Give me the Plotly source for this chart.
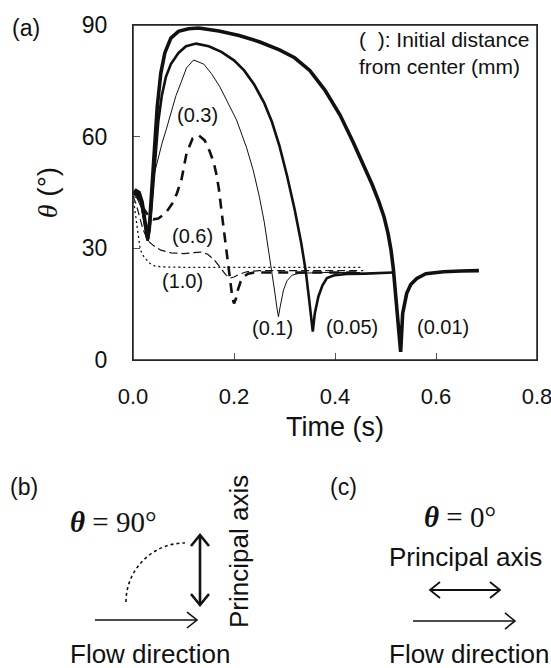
import plotly.graph_objects as go

# ---------------- data ----------------
t_001 = [0, 0.006, 0.012, 0.018, 0.024, 0.029, 0.033, 0.037, 0.042, 0.048, 0.055, 0.063, 0.075,
         0.09, 0.11, 0.13, 0.17, 0.21, 0.25, 0.29, 0.32, 0.35, 0.38, 0.41, 0.436, 0.456, 0.474,
         0.487, 0.497, 0.505, 0.511, 0.5155, 0.522, 0.527, 0.530, 0.534, 0.542, 0.55, 0.562,
         0.58, 0.615, 0.65, 0.685]
v_001 = [44.5, 45.5, 45, 42.5, 37, 32.5, 37, 46, 57, 68, 77, 82.5, 86.5,
         88.3, 89, 89.2, 88.4, 87.2, 85.5, 83.3, 81.2, 77.8, 72.5, 65.8, 58.5, 52.5, 47,
         42.5, 38.5, 34, 29.5, 24.5, 14.3, 6.3, 2.2, 12.5, 17.9, 20.3, 21.9,
         23.2, 23.7, 23.9, 24]

t_005 = [0, 0.006, 0.012, 0.018, 0.024, 0.029, 0.033, 0.038, 0.044, 0.05, 0.057, 0.065, 0.075,
         0.09, 0.105, 0.125, 0.15, 0.175, 0.2, 0.22, 0.24, 0.26, 0.275, 0.29, 0.305, 0.32,
         0.333, 0.342, 0.349, 0.354, 0.356, 0.360, 0.367, 0.375, 0.384, 0.4, 0.423, 0.46,
         0.5, 0.515]
v_005 = [45, 45, 44, 41, 36, 32, 35, 44, 55, 64, 71, 76, 79.5,
         82.5, 84.3, 85, 84.3, 82.8, 80.5, 77.8, 74, 69, 64, 57.5, 49.5, 40.5,
         31.5, 24, 16, 10, 7.6, 12.5, 17, 20, 22, 22.8, 23.1, 23.2,
         23.3, 23.5]

t_01 = [0, 0.008, 0.016, 0.022, 0.028, 0.032, 0.037, 0.044, 0.05, 0.058, 0.066, 0.075, 0.085,
        0.095, 0.106, 0.12, 0.14, 0.155, 0.172, 0.205, 0.225, 0.238, 0.25, 0.26, 0.268, 0.275,
        0.281, 0.285, 0.288, 0.291, 0.294, 0.298, 0.305, 0.315, 0.33, 0.38, 0.45]
v_01 = [44, 43.5, 41, 37, 33, 37, 46, 51, 54.5, 58.5, 62, 66, 71,
        74.5, 78.5, 80.6, 79.5, 77, 73.4, 64.5, 57, 51, 44, 37, 30, 24.2,
        18, 14, 11.6, 14, 16.5, 18.8, 21.3, 22.8, 23.3, 23.5, 23.5]

t_03 = [0, 0.008, 0.016, 0.024, 0.032, 0.04, 0.05, 0.06, 0.07, 0.08, 0.087, 0.096, 0.106,
        0.118, 0.13, 0.142, 0.152, 0.16, 0.165, 0.17, 0.178, 0.186, 0.192, 0.197, 0.2, 0.204,
        0.208, 0.213, 0.219, 0.228, 0.24, 0.3, 0.38, 0.45]
v_03 = [45, 44, 42, 40, 38.5, 37.8, 38, 39, 40.5, 42.5, 44.8, 48.5, 55.5,
        59.5, 60.4, 59, 56, 53, 50, 46, 37, 27.8, 21.5, 16.5, 15.2, 16.5,
        19, 21, 22.4, 23.2, 23.5, 23.5, 23.5, 23.5]

t_06 = [0, 0.006, 0.012, 0.02, 0.03, 0.04, 0.055, 0.075, 0.1, 0.12, 0.135, 0.148, 0.16, 0.172,
        0.183, 0.192, 0.2, 0.21, 0.225, 0.25, 0.3, 0.38, 0.456]
v_06 = [44, 42, 39, 35, 32, 30.8, 29.5, 28.8, 28.6, 28.8, 29, 28.4, 27, 25,
        23, 22, 22.3, 23, 23.7, 24, 24, 24, 24]

t_10 = [0, 0.004, 0.008, 0.0106, 0.014, 0.018, 0.024, 0.034, 0.044, 0.06, 0.1, 0.2, 0.3, 0.456]
v_10 = [44, 40, 35, 32.2, 30, 28.5, 27.3, 25.9, 25.2, 25, 24.9, 24.9, 24.9, 24.9]

x_ticks = [0.0, 0.2, 0.4, 0.6, 0.8]
y_ticks = [0, 30, 60, 90]

curve_labels = ["(0.3)", "(0.6)", "(1.0)", "(0.1)", "(0.05)", "(0.01)"]
label_t = [0.1277, 0.1188, 0.0980, 0.2772, 0.4327, 0.6129]
label_v = [65.7, 33.3, 21.2, 8.6, 8.9, 8.9]

# ---------------- figure ----------------
W, H = 551, 668
L, R, T, B = 133, 14, 25, 308
PW, PH = W - L - R, H - T - B
SANS = "Liberation Sans, Arial, Helvetica, sans-serif"
SERIF = "Liberation Serif, Times New Roman, serif"
INK = "#111111"


def px(x, y):
    """pixel position on the canvas -> paper coordinates"""
    return (x - L) / PW, (H - B - y) / PH


fig = go.Figure()

series = [
    (t_001, v_001, 3.6, "solid"),
    (t_005, v_005, 2.6, "solid"),
    (t_01, v_01, 1.0, "solid"),
    (t_03, v_03, 2.6, "10px,7px"),
    (t_06, v_06, 1.2, "8px,4px"),
    (t_10, v_10, 1.3, "2px,3px"),
]
for tx, vy, w, d in series:
    fig.add_trace(go.Scatter(x=tx, y=vy, mode="lines",
                             line=dict(color=INK, width=w, dash=d),
                             showlegend=False, hoverinfo="skip"))

annotations = []
for txt, tx, vy in zip(curve_labels, label_t, label_v):
    annotations.append(dict(x=tx, y=vy, xref="x", yref="y", text=txt, showarrow=False,
                            font=dict(family=SANS, size=20, color=INK)))

annotations.append(dict(x=0.4436, y=89.6, xref="x", yref="y", xanchor="left", yanchor="top",
                        align="left", showarrow=False,
                        text="(  ): Initial distance<br>from center (mm)",
                        font=dict(family=SANS, size=21, color=INK)))


def text_px(x, y, s, size, family=SANS, angle=0):
    xp, yp = px(x, y)
    annotations.append(dict(x=xp, y=yp, xref="paper", yref="paper", text=s, showarrow=False,
                            xanchor="center", yanchor="middle", textangle=angle,
                            font=dict(family=family, size=size, color=INK)))


text_px(26, 28, "(a)", 23)
text_px(24, 487, "(b)", 23)
text_px(343, 487, "(c)", 23)
text_px(113, 522, "<b><i>θ</i></b> = 90°", 29, SERIF)
text_px(460, 517, "<b><i>θ</i></b> = 0°", 29, SERIF)
text_px(239, 552, "Principal axis", 26, angle=-90)
text_px(465, 557, "Principal axis", 26)
text_px(150, 654, "Flow direction", 26)
text_px(469, 654, "Flow direction", 26)

# frame of panel (a)
shapes = [dict(type="rect", xref="paper", yref="paper", x0=0, x1=1, y0=0, y1=1,
               line=dict(color="#222222", width=1.5), layer="above")]


def path_px(cmds, width, dash="solid"):
    parts = []
    for cmd, pts in cmds:
        coords = " ".join("%.5f,%.5f" % px(x, y) for x, y in pts)
        parts.append(cmd + coords)
    shapes.append(dict(type="path", xref="paper", yref="paper", path=" ".join(parts),
                       line=dict(color=INK, width=width, dash=dash)))


def chevron(p0, tip, p1, width):
    path_px([("M", [p0]), ("L", [tip]), ("L", [p1])], width)


# (b) dotted quarter arc
cx, cy, r = 185, 602, 59
k = 0.5523 * r
path_px([("M", [(cx - r, cy)]), ("C", [(cx - r, cy - k), (cx - k, cy - r), (cx, cy - r)])], 1.6, "dot")
# (b) vertical double arrow
path_px([("M", [(200, 536)]), ("L", [(200, 604)])], 2.6)
chevron((191, 546), (200, 535), (209, 546), 2.6)
chevron((191, 594), (200, 605), (209, 594), 2.6)
# (b) flow arrow
path_px([("M", [(95, 620)]), ("L", [(197, 620)])], 1.6)
chevron((187, 612), (197, 620), (187, 628), 1.6)
# (c) horizontal double arrow
path_px([("M", [(430, 590)]), ("L", [(500, 590)])], 1.8)
chevron((440, 582), (430, 590), (440, 598), 1.8)
chevron((490, 582), (500, 590), (490, 598), 1.8)
# (c) flow arrow
path_px([("M", [(413, 621)]), ("L", [(515, 621)])], 1.6)
chevron((505, 613), (515, 621), (505, 629), 1.6)

axis_common = dict(showline=True, linecolor="#333333", linewidth=1, mirror=True,
                   ticks="inside", ticklen=7, tickcolor="#555555", showgrid=False,
                   zeroline=False, ticklabeloverflow="allow", automargin=False)

fig.update_layout(
    width=W, height=H,
    margin=dict(l=L, r=R, t=T, b=B, pad=0, autoexpand=False),
    paper_bgcolor="white", plot_bgcolor="white",
    xaxis=dict(range=[0, 0.8], tickvals=x_ticks, tickformat=".1f",
               ticklabelstandoff=17, tickfont=dict(family=SANS, size=22, color=INK),
               title=dict(text="Time (s)", font=dict(family=SANS, size=27, color=INK),
                          standoff=8),
               **axis_common),
    yaxis=dict(range=[0, 90], tickvals=y_ticks, ticklabelstandoff=20,
               tickfont=dict(family=SANS, size=23, color=INK),
               title=dict(text="<span style=\"font-family:'Liberation Serif',serif\"><i>θ</i></span> (°)",
                          font=dict(family=SANS, size=28, color=INK), standoff=16),
               **axis_common),
    annotations=annotations,
    shapes=shapes,
)

fig.write_html(
    "out.html",
    config={"displayModeBar": False},
    post_script=("document.documentElement.style.overflow='hidden';"
                 "document.body.style.overflow='hidden';"
                 "document.body.style.margin='0';"),
)
